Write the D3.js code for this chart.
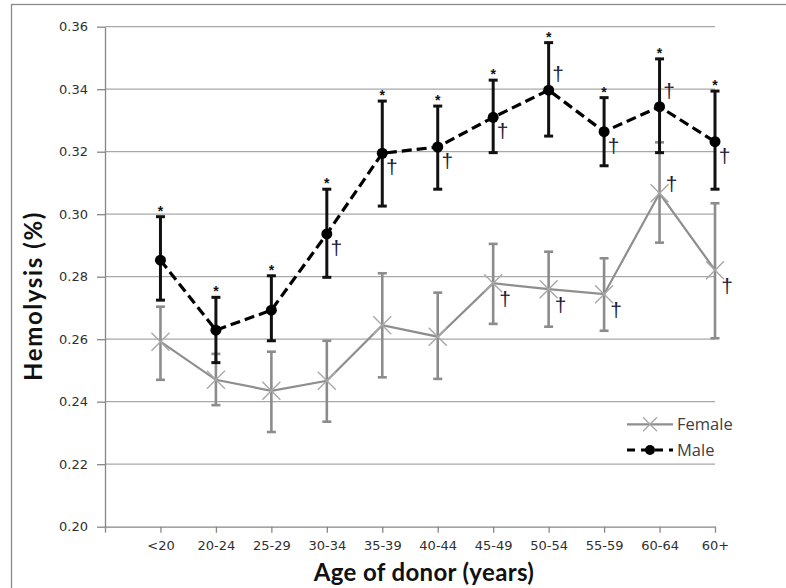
<!DOCTYPE html>
<html>
<head>
<meta charset="utf-8">
<script src="https://cdn.jsdelivr.net/npm/d3@7"></script>
<style>
  body { margin: 0; background: #fff; }
  svg { display: block; }
</style>
</head>
<body>
<svg id="chart" width="786" height="588"></svg>
<script>
// Age groups of blood donors
const ageGroups = ["<20", "20-24", "25-29", "30-34", "35-39", "40-44", "45-49", "50-54", "55-59", "60-64", "60+"];

// Hemolysis (%) by age group: mean with lower / upper error-bar ends
const femaleMean = [0.2592, 0.2470, 0.2435, 0.2467, 0.2645, 0.2608, 0.2779, 0.2760, 0.2744, 0.3067, 0.2821];
const femaleLow  = [0.2470, 0.2389, 0.2303, 0.2336, 0.2478, 0.2473, 0.2649, 0.2640, 0.2627, 0.2909, 0.2603];
const femaleHigh = [0.2704, 0.2553, 0.2560, 0.2595, 0.2811, 0.2749, 0.2905, 0.2880, 0.2859, 0.3230, 0.3035];

const maleMean = [0.2853, 0.2629, 0.2693, 0.2937, 0.3195, 0.3215, 0.3310, 0.3397, 0.3264, 0.3344, 0.3232];
const maleLow  = [0.2725, 0.2525, 0.2595, 0.2798, 0.3026, 0.3080, 0.3197, 0.3250, 0.3155, 0.3197, 0.3080];
const maleHigh = [0.2992, 0.2734, 0.2803, 0.3080, 0.3362, 0.3346, 0.3429, 0.3549, 0.3373, 0.3497, 0.3394];

// Significance markers: * male vs female, † vs youngest group
const maleStar     = [1, 1, 1, 1, 1, 1, 1, 1, 1, 1, 1];
const maleDagger   = [0, 0, 0, 1, 1, 1, 1, 1, 1, 1, 1];
const femaleDagger = [0, 0, 0, 0, 0, 0, 1, 1, 1, 1, 1];

// Axis ticks
const yTicks = [0.20, 0.22, 0.24, 0.26, 0.28, 0.30, 0.32, 0.34, 0.36];

const svg = d3.select("#chart");
const idx = d3.range(ageGroups.length);

// Category positions: one empty slot before the first group
const x = d3.scaleLinear().domain([-1, ageGroups.length - 1]).range([105, 715]);
const y = d3.scaleLinear().domain([0.20, 0.36]).range([526.7, 26.7]);

// Outer chart frame
svg.append("rect")
  .attr("x", 11.5).attr("y", 4.5)
  .attr("width", 800).attr("height", 600)
  .attr("fill", "none").attr("stroke", "#8a8a8a").attr("stroke-width", 1.3);

// Horizontal gridlines
svg.append("g").selectAll("line")
  .data(yTicks.filter(t => t > 0.2))
  .join("line")
  .attr("x1", x(-1)).attr("x2", x(ageGroups.length - 1))
  .attr("y1", d => y(d)).attr("y2", d => y(d))
  .attr("stroke", "#a8a8a8").attr("stroke-width", 1.3);

// Y axis
const yAxis = svg.append("g")
  .attr("transform", `translate(${x(-1)},0)`)
  .call(d3.axisLeft(y).tickValues(yTicks).tickFormat(d3.format(".2f"))
    .tickSize(8).tickSizeOuter(0).tickPadding(9));
yAxis.select(".domain").attr("stroke", "#868686").attr("stroke-width", 1.3);
yAxis.selectAll(".tick line").attr("stroke", "#868686").attr("stroke-width", 1.3);
yAxis.selectAll(".tick text")
  .attr("font-family", "DejaVu Sans").attr("font-size", 13).attr("fill", "#303030");

// X axis
const xAxis = svg.append("g")
  .attr("transform", `translate(0,${y(0.20)})`)
  .call(d3.axisBottom(x).tickValues(d3.range(-1, ageGroups.length))
    .tickFormat(i => i < 0 ? "" : ageGroups[i])
    .tickSize(6).tickSizeOuter(0).tickPadding(8));
xAxis.select(".domain").attr("stroke", "#868686").attr("stroke-width", 1.3);
xAxis.selectAll(".tick line").attr("stroke", "#868686").attr("stroke-width", 1.3);
xAxis.selectAll(".tick text")
  .attr("font-family", "DejaVu Sans").attr("font-size", 13).attr("fill", "#303030");

// Axis titles
svg.append("text")
  .attr("x", 424).attr("y", 581)
  .attr("text-anchor", "middle")
  .attr("font-family", "Lato").attr("font-weight", "bold").attr("font-size", 24)
  .attr("letter-spacing", 0.35)
  .attr("fill", "#111")
  .text("Age of donor (years)");

svg.append("text")
  .attr("transform", "translate(42,296) rotate(-90)")
  .attr("text-anchor", "middle")
  .attr("font-family", "Lato").attr("font-weight", "bold").attr("font-size", 24)
  .attr("letter-spacing", 1.6)
  .attr("fill", "#111")
  .text("Hemolysis (%)");

// Error bars with caps
function errorBars(low, high, color, width) {
  const g = svg.append("g").attr("stroke", color).attr("stroke-width", width);
  g.selectAll("line.v").data(idx).join("line").attr("class", "v")
    .attr("x1", i => x(i)).attr("x2", i => x(i))
    .attr("y1", i => y(low[i])).attr("y2", i => y(high[i]));
  g.selectAll("line.lo").data(idx).join("line").attr("class", "lo")
    .attr("x1", i => x(i) - 4.5).attr("x2", i => x(i) + 4.5)
    .attr("y1", i => y(low[i])).attr("y2", i => y(low[i]));
  g.selectAll("line.hi").data(idx).join("line").attr("class", "hi")
    .attr("x1", i => x(i) - 4.5).attr("x2", i => x(i) + 4.5)
    .attr("y1", i => y(high[i])).attr("y2", i => y(high[i]));
}

const line = d3.line().x(i => x(i));

// Female series
errorBars(femaleLow, femaleHigh, "#8c8c8c", 2.6);
svg.append("path")
  .datum(idx)
  .attr("d", line.y(i => y(femaleMean[i])))
  .attr("fill", "none").attr("stroke", "#8e8e8e").attr("stroke-width", 2.2);
const xMark = 9;
svg.append("g").selectAll("path")
  .data(idx).join("path")
  .attr("transform", i => `translate(${x(i)},${y(femaleMean[i])})`)
  .attr("d", `M${-xMark},${-xMark}L${xMark},${xMark}M${-xMark},${xMark}L${xMark},${-xMark}`)
  .attr("stroke", "#a8a8a8").attr("stroke-width", 1.4).attr("fill", "none");

// Male series
errorBars(maleLow, maleHigh, "#111", 3);
svg.append("path")
  .datum(idx)
  .attr("d", line.y(i => y(maleMean[i])))
  .attr("fill", "none").attr("stroke", "#000").attr("stroke-width", 3.2)
  .attr("stroke-dasharray", "10,5");
svg.append("g").selectAll("circle")
  .data(idx).join("circle")
  .attr("cx", i => x(i)).attr("cy", i => y(maleMean[i]))
  .attr("r", 5.5).attr("fill", "#000");

// Asterisks above male upper error bars
svg.append("g").selectAll("text")
  .data(idx.filter(i => maleStar[i]))
  .join("text")
  .attr("x", i => x(i)).attr("y", i => y(maleHigh[i]) - 1)
  .attr("text-anchor", "middle")
  .attr("font-family", "Liberation Sans").attr("font-weight", "bold").attr("font-size", 14)
  .attr("fill", "#111")
  .text("*");

// Daggers beside the points (above where the line passes below)
const maleDaggerUp = new Set(["50-54", "60-64"]);
const femaleDaggerUp = new Set(["60-64"]);
function daggers(flags, mean, upSet, dx, dyDown, dyUp) {
  svg.append("g").selectAll("text")
    .data(idx.filter(i => flags[i]))
    .join("text")
    .attr("x", i => x(i) + dx)
    .attr("y", i => y(mean[i]) + (upSet.has(ageGroups[i]) ? dyUp : dyDown))
    .attr("text-anchor", "middle")
    .attr("font-family", "Liberation Sans").attr("font-size", 21)
    .attr("fill", "#1c1c3a")
    .text("\u2020");
}
daggers(maleDagger, maleMean, maleDaggerUp, 9.5, 21, -9);
daggers(femaleDagger, femaleMean, femaleDaggerUp, 12, 23, -2);

// Legend
const legend = svg.append("g").attr("transform", "translate(627,0)");
legend.append("line")
  .attr("x1", 0).attr("x2", 46).attr("y1", 424.3).attr("y2", 424.3)
  .attr("stroke", "#8e8e8e").attr("stroke-width", 2.2);
legend.append("path")
  .attr("transform", "translate(23,424.3)")
  .attr("d", "M-7,-7L7,7M-7,7L7,-7")
  .attr("stroke", "#a8a8a8").attr("stroke-width", 1.4);
legend.append("line")
  .attr("x1", 0).attr("x2", 46).attr("y1", 450).attr("y2", 450)
  .attr("stroke", "#000").attr("stroke-width", 3.2).attr("stroke-dasharray", "8,6");
legend.append("circle").attr("cx", 23).attr("cy", 450).attr("r", 5).attr("fill", "#000");
legend.selectAll("text.lab")
  .data(["Female", "Male"])
  .join("text").attr("class", "lab")
  .attr("x", 50).attr("y", (d, i) => 424.3 + i * 25.7)
  .attr("dy", "0.35em")
  .attr("font-family", "Open Sans").attr("font-size", 16.5).attr("fill", "#404040")
  .text(d => d);
</script>
</body>
</html>
